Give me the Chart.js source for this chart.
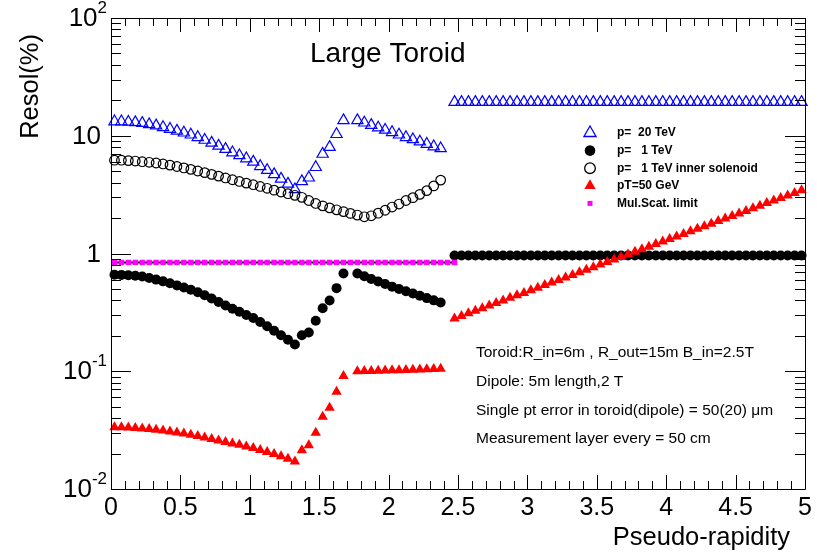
<!DOCTYPE html>
<html>
<head>
<meta charset="utf-8">
<script src="https://cdn.jsdelivr.net/npm/chart.js@4.4.0/dist/chart.umd.min.js"></script>
<style>
    body { margin: 0; background: #fff; }
    #caixa { width: 817px; height: 554px; }
</style>
</head>
<body>
<div id="caixa"><canvas id="grafico" width="817" height="554"></canvas></div>
<script>
// pseudo-rapidez dos pontos (barril / toroide e região dianteira / dipolo)
const etaBarril = [0.025, 0.075, 0.125, 0.175, 0.225, 0.275, 0.325, 0.375, 0.425, 0.475,
    0.525, 0.575, 0.625, 0.675, 0.725, 0.775, 0.825, 0.875, 0.925, 0.975,
    1.025, 1.075, 1.125, 1.175, 1.225, 1.275, 1.325, 1.375, 1.425, 1.475,
    1.525, 1.575, 1.625, 1.675, 1.725, 1.775, 1.825, 1.875, 1.925, 1.975,
    2.025, 2.075, 2.125, 2.175, 2.225, 2.275, 2.325, 2.375];
const etaFrente = [2.475, 2.525, 2.575, 2.625, 2.675, 2.725, 2.775, 2.825, 2.875, 2.925,
    2.975, 3.025, 3.075, 3.125, 3.175, 3.225, 3.275, 3.325, 3.375, 3.425,
    3.475, 3.525, 3.575, 3.625, 3.675, 3.725, 3.775, 3.825, 3.875, 3.925,
    3.975, 4.025, 4.075, 4.125, 4.175, 4.225, 4.275, 4.325, 4.375, 4.425,
    4.475, 4.525, 4.575, 4.625, 4.675, 4.725, 4.775, 4.825, 4.875, 4.925,
    4.975];
const etaLimite = [0.025, 0.075, 0.125, 0.175, 0.225, 0.275, 0.325, 0.375, 0.425, 0.475,
    0.525, 0.575, 0.625, 0.675, 0.725, 0.775, 0.825, 0.875, 0.925, 0.975,
    1.025, 1.075, 1.125, 1.175, 1.225, 1.275, 1.325, 1.375, 1.425, 1.475,
    1.525, 1.575, 1.625, 1.675, 1.725, 1.775, 1.825, 1.875, 1.925, 1.975,
    2.025, 2.075, 2.125, 2.175, 2.225, 2.275, 2.325, 2.375, 2.425, 2.475];

// resolução (%) - p = 20 TeV
const p20Barril = [13.2, 13.2, 13.1, 13.0, 12.8, 12.5, 12.2, 11.8, 11.4, 11.0,
    10.6, 10.2, 9.7, 9.2, 8.7, 8.2, 7.7, 7.2, 6.8, 6.4,
    6.0, 5.5, 5.1, 4.7, 4.3, 3.9, 3.5, 4.1, 4.4, 5.4,
    7.0, 8.0, 10.3, 13.5, null, 13.5, 12.9, 12.3, 11.7, 11.2,
    10.7, 10.2, 9.7, 9.3, 8.9, 8.5, 8.1, 7.8];
const p20Frente = [19.3, 19.3, 19.3, 19.3, 19.3, 19.3, 19.3, 19.3, 19.3, 19.3,
    19.3, 19.3, 19.3, 19.3, 19.3, 19.3, 19.3, 19.3, 19.3, 19.3,
    19.3, 19.3, 19.3, 19.3, 19.3, 19.3, 19.3, 19.3, 19.3, 19.3,
    19.3, 19.3, 19.3, 19.3, 19.3, 19.3, 19.3, 19.3, 19.3, 19.3,
    19.3, 19.3, 19.3, 19.3, 19.3, 19.3, 19.3, 19.3, 19.3, 19.3,
    19.3];

// p = 1 TeV
const p1Barril = [0.660, 0.658, 0.654, 0.647, 0.637, 0.620, 0.600, 0.580, 0.558, 0.536,
    0.514, 0.493, 0.468, 0.442, 0.415, 0.387, 0.362, 0.340, 0.320, 0.300,
    0.283, 0.262, 0.241, 0.221, 0.202, 0.185, 0.169, 0.202, 0.213, 0.268,
    0.343, 0.399, 0.508, 0.676, null, 0.676, 0.640, 0.607, 0.578, 0.550,
    0.523, 0.500, 0.478, 0.458, 0.438, 0.418, 0.400, 0.383];
const p1Frente = [0.96, 0.96, 0.96, 0.96, 0.96, 0.96, 0.96, 0.96, 0.96, 0.96,
    0.96, 0.96, 0.96, 0.96, 0.96, 0.96, 0.96, 0.96, 0.96, 0.96,
    0.96, 0.96, 0.96, 0.96, 0.96, 0.96, 0.96, 0.96, 0.96, 0.96,
    0.96, 0.96, 0.96, 0.96, 0.96, 0.96, 0.96, 0.96, 0.96, 0.96,
    0.96, 0.96, 0.96, 0.96, 0.96, 0.96, 0.96, 0.96, 0.96, 0.96,
    0.96];

// p = 1 TeV com solenoide interno
const p1Solenoide = [6.20, 6.20, 6.15, 6.10, 6.02, 5.95, 5.87, 5.76, 5.63, 5.48,
    5.33, 5.18, 5.02, 4.86, 4.70, 4.54, 4.38, 4.23, 4.09, 3.96,
    3.84, 3.71, 3.58, 3.45, 3.33, 3.22, 3.12, 3.00, 2.82, 2.66,
    2.54, 2.44, 2.35, 2.27, 2.19, 2.12, 2.05, 2.09, 2.20, 2.33,
    2.48, 2.63, 2.82, 2.98, 3.18, 3.42, 3.75, 4.20];

// pT = 50 GeV
const pt50Barril = [0.0335, 0.0335, 0.0333, 0.0330, 0.0327, 0.0323, 0.0319, 0.0314, 0.0308, 0.0302,
    0.0296, 0.0289, 0.0282, 0.0274, 0.0266, 0.0258, 0.0251, 0.0244, 0.0237, 0.0230,
    0.0223, 0.0214, 0.0206, 0.0198, 0.0190, 0.0181, 0.0171, 0.0213, 0.0235, 0.0300,
    0.0410, 0.0490, 0.0670, 0.0910, null, 0.1000, 0.1003, 0.1007, 0.1010, 0.1014,
    0.1018, 0.1022, 0.1026, 0.1030, 0.1035, 0.1040, 0.1045, 0.1050];
const pt50Frente = [0.281, 0.295, 0.311, 0.327, 0.343, 0.361, 0.380, 0.399, 0.420, 0.441,
    0.463, 0.487, 0.512, 0.539, 0.566, 0.595, 0.626, 0.658, 0.692, 0.728,
    0.766, 0.805, 0.846, 0.890, 0.936, 0.983, 1.034, 1.087, 1.143, 1.202,
    1.262, 1.327, 1.395, 1.467, 1.542, 1.622, 1.705, 1.793, 1.885, 1.982,
    2.084, 2.19, 2.30, 2.42, 2.55, 2.68, 2.82, 2.96, 3.11, 3.27,
    3.44];

// limite de espalhamento múltiplo
const limiteMS = [0.84, 0.84, 0.84, 0.84, 0.84, 0.84, 0.84, 0.84, 0.84, 0.84,
    0.84, 0.84, 0.84, 0.84, 0.84, 0.84, 0.84, 0.84, 0.84, 0.84,
    0.84, 0.84, 0.84, 0.84, 0.84, 0.84, 0.84, 0.84, 0.84, 0.84,
    0.84, 0.84, 0.84, 0.84, 0.84, 0.84, 0.84, 0.84, 0.84, 0.84,
    0.84, 0.84, 0.84, 0.84, 0.84, 0.84, 0.84, 0.84, 0.84, 0.84];

// eixos
const xTicks = [0, 0.5, 1, 1.5, 2, 2.5, 3, 3.5, 4, 4.5, 5];
const xTickLabels = ['0', '0.5', '1', '1.5', '2', '2.5', '3', '3.5', '4', '4.5', '5'];
const yTicks = [0.01, 0.1, 1, 10, 100];
const yTickLabels = ['10^-2', '10^-1', '1', '10', '10^2'];

const titulo = 'Large Toroid';
const tituloX = 'Pseudo-rapidity';
const tituloY = 'Resol(%)';
const legendas = ['p=  20 TeV', 'p=   1 TeV', 'p=   1 TeV inner solenoid', 'pT=50 GeV', 'Mul.Scat. limit'];
const notas = ['Toroid:R_in=6m , R_out=15m B_in=2.5T',
    'Dipole: 5m length,2 T',
    'Single pt error in toroid(dipole) = 50(20) \u03bcm',
    'Measurement layer every = 50 cm'];

const fonte = '"Liberation Sans", Arial, Helvetica, sans-serif';

function pontos(xs, ys) {
    return xs.map((x, i) => ({ x: x, y: ys[i] })).filter(p => p.y !== null);
}

// desenha um marcador da legenda
function marcador(ctx, tipo, x, y) {
    ctx.beginPath();
    if (tipo === 'triAberto' || tipo === 'triCheio') {
        const r = tipo === 'triAberto' ? 7 : 6.5;
        ctx.moveTo(x, y - r);
        ctx.lineTo(x + r * 0.866, y + r * 0.5);
        ctx.lineTo(x - r * 0.866, y + r * 0.5);
        ctx.closePath();
        if (tipo === 'triAberto') {
            ctx.strokeStyle = '#0000ff'; ctx.lineWidth = 1.3; ctx.stroke();
        } else {
            ctx.fillStyle = '#ff0000'; ctx.fill();
        }
    } else if (tipo === 'bolaCheia' || tipo === 'bolaAberta') {
        ctx.arc(x, y, 5.3, 0, Math.PI * 2);
        if (tipo === 'bolaCheia') {
            ctx.fillStyle = '#000'; ctx.fill();
        } else {
            ctx.strokeStyle = '#000'; ctx.lineWidth = 1.3; ctx.stroke();
        }
    } else {
        ctx.fillStyle = '#ff00ff';
        ctx.fillRect(x - 2.5, y - 2.5, 5, 5);
    }
}

const moldura = {
    id: 'moldura',
    afterDraw(chart) {
        const ctx = chart.ctx;
        const a = chart.chartArea;
        const sx = chart.scales.x, sy = chart.scales.y;
        ctx.save();

        // quadro e marcas internas
        ctx.strokeStyle = '#000';
        ctx.lineWidth = 1;
        ctx.beginPath();
        ctx.rect(a.left + 0.5, a.top + 0.5, a.right - a.left, a.bottom - a.top);
        for (let k = 0; k <= 50; k++) {
            const px = Math.round(sx.getPixelForValue(k / 10)) + 0.5;
            const len = k % 5 === 0 ? 14 : 8;
            ctx.moveTo(px, a.bottom); ctx.lineTo(px, a.bottom - len);
            ctx.moveTo(px, a.top); ctx.lineTo(px, a.top + len);
        }
        yTicks.forEach(dec => {
            for (let m = 1; m <= 9; m++) {
                if (dec * m > 100.001) break;
                const py = Math.round(sy.getPixelForValue(dec * m)) + 0.5;
                const len = m === 1 ? 20 : 10;
                ctx.moveTo(a.left, py); ctx.lineTo(a.left + len, py);
                ctx.moveTo(a.right, py); ctx.lineTo(a.right - len, py);
            }
        });
        ctx.stroke();

        ctx.fillStyle = '#000';
        ctx.textBaseline = 'middle';

        // rótulos do eixo x
        ctx.font = '25px ' + fonte;
        ctx.textAlign = 'center';
        xTicks.forEach((v, i) => {
            ctx.fillText(xTickLabels[i], sx.getPixelForValue(v), a.bottom + 19);
        });

        // rótulos do eixo y (com expoente)
        ctx.textAlign = 'right';
        yTicks.forEach((v, i) => {
            const py = sy.getPixelForValue(v);
            const partes = yTickLabels[i].split('^');
            if (partes.length > 1) {
                ctx.font = '17px ' + fonte;
                const we = ctx.measureText(partes[1]).width;
                ctx.fillText(partes[1], a.left - 4, py - 10);
                ctx.font = '26px ' + fonte;
                ctx.fillText(partes[0], a.left - 4 - we, py + 1);
            } else {
                ctx.font = '26px ' + fonte;
                ctx.fillText(partes[0], a.left - 10, py + 1);
            }
        });

        // títulos dos eixos
        ctx.font = '25.5px ' + fonte;
        ctx.textAlign = 'right';
        ctx.fillText(tituloX, 790, 538);
        ctx.save();
        ctx.translate(31, 34);
        ctx.rotate(-Math.PI / 2);
        ctx.fillText(tituloY, 0, 0);
        ctx.restore();

        // título
        ctx.font = '28px ' + fonte;
        ctx.textAlign = 'left';
        ctx.fillText(titulo, 310, 54);

        // legenda
        const tipos = ['triAberto', 'bolaCheia', 'bolaAberta', 'triCheio', 'quadrado'];
        legendas.forEach((t, i) => {
            const ly = 133 + i * 17.6;
            marcador(ctx, tipos[i], 590, ly);
            ctx.fillStyle = '#000';
            ctx.font = 'bold 12px ' + fonte;
            ctx.textAlign = 'left';
            ctx.fillText(t, 617, ly);
        });

        // notas
        ctx.font = '15.5px ' + fonte;
        notas.forEach((t, i) => {
            ctx.fillText(t, 476, 353 + i * 28.7);
        });

        ctx.restore();
    }
};

new Chart(document.getElementById('grafico'), {
    type: 'scatter',
    data: {
        datasets: [
            {
                label: legendas[4],
                data: pontos(etaLimite, limiteMS),
                showLine: true,
                borderColor: '#000',
                borderWidth: 2,
                pointStyle: 'rect',
                pointRadius: 3.8,
                pointBackgroundColor: '#ff00ff',
                pointBorderWidth: 0,
                clip: 8
            },
            {
                label: legendas[3],
                data: pontos(etaBarril, pt50Barril).concat(pontos(etaFrente, pt50Frente)),
                pointStyle: 'triangle',
                pointRadius: 6,
                pointBackgroundColor: '#ff0000',
                pointBorderColor: '#ff0000',
                pointBorderWidth: 0,
                clip: 8
            },
            {
                label: legendas[2],
                data: pontos(etaBarril, p1Solenoide),
                pointStyle: 'circle',
                pointRadius: 4.8,
                pointBackgroundColor: 'rgba(0,0,0,0)',
                pointBorderColor: '#000',
                pointBorderWidth: 1.2,
                clip: 8
            },
            {
                label: legendas[1],
                data: pontos(etaBarril, p1Barril).concat(pontos(etaFrente, p1Frente)),
                pointStyle: 'circle',
                pointRadius: 5,
                pointBackgroundColor: '#000',
                pointBorderColor: '#000',
                pointBorderWidth: 0,
                clip: 8
            },
            {
                label: legendas[0],
                data: pontos(etaBarril, p20Barril).concat(pontos(etaFrente, p20Frente)),
                pointStyle: 'triangle',
                pointRadius: 6.5,
                pointBackgroundColor: 'rgba(0,0,0,0)',
                pointBorderColor: '#0000ff',
                pointBorderWidth: 1.2,
                clip: 8
            }
        ]
    },
    options: {
        responsive: false,
        animation: false,
        devicePixelRatio: 1,
        events: [],
        layout: { padding: { left: 111, right: 12, top: 18, bottom: 65 } },
        plugins: {
            legend: { display: false },
            tooltip: { enabled: false }
        },
        scales: {
            x: { type: 'linear', min: 0, max: 5, display: false },
            y: { type: 'logarithmic', min: 0.01, max: 100, display: false }
        }
    },
    plugins: [moldura]
});
</script>
</body>
</html>
